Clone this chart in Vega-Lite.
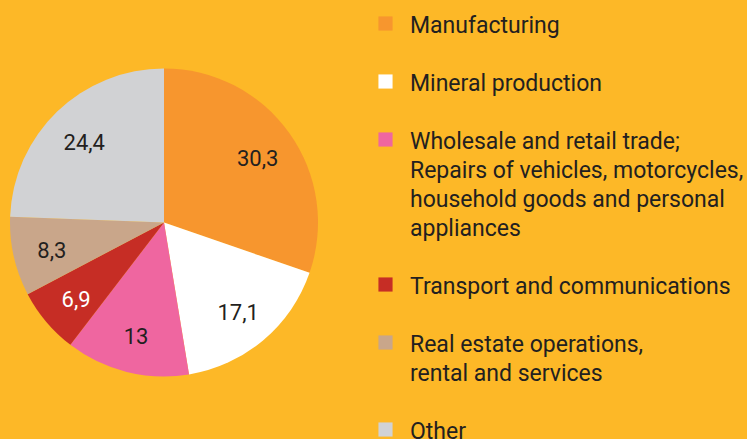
{
  "$schema": "https://vega.github.io/schema/vega-lite/v6.json",
  "width": 328,
  "height": 439,
  "padding": {"left": 0, "top": 0, "right": 419, "bottom": 0},
  "autosize": {"type": "none"},
  "background": "#FDB827",
  "config": {"view": {"stroke": null}},
  "data": {
    "values": [
      {"sector": "Manufacturing", "label": "Manufacturing", "value": 30.3, "text": "30,3", "order": 1},
      {"sector": "Mineral production", "label": "Mineral production", "value": 17.1, "text": "17,1", "order": 2},
      {"sector": "Wholesale", "label": "Wholesale and retail trade;|Repairs of vehicles, motorcycles,|household goods and personal|appliances", "value": 13, "text": "13", "order": 3},
      {"sector": "Transport", "label": "Transport and communications", "value": 6.9, "text": "6,9", "order": 4},
      {"sector": "Real estate", "label": "Real estate operations,|rental and services", "value": 8.3, "text": "8,3", "order": 5},
      {"sector": "Other", "label": "Other", "value": 24.4, "text": "24,4", "order": 6}
    ]
  },
  "encoding": {
    "theta": {"field": "value", "type": "quantitative", "stack": true},
    "order": {"field": "order", "type": "quantitative"}
  },
  "layer": [
    {
      "mark": {"type": "arc", "outerRadius": 154, "yOffset": 3},
      "encoding": {
        "color": {
          "field": "label",
          "type": "nominal",
          "sort": {"field": "order"},
          "scale": {
            "domain": ["Manufacturing", "Mineral production", "Wholesale and retail trade;|Repairs of vehicles, motorcycles,|household goods and personal|appliances", "Transport and communications", "Real estate operations,|rental and services", "Other"],
            "range": ["#F7962E", "#FFFFFF", "#EF66A0", "#C62D25", "#C9A68A", "#D1D2D4"]
          },
          "legend": {
            "orient": "none",
            "legendX": 374,
            "legendY": 12,
            "title": null,
            "symbolType": "square",
            "symbolSize": 200,
            "symbolStrokeWidth": 0,
            "symbolOpacity": 1,
            "labelFont": "Roboto",
            "labelFontSize": 23,
            "labelColor": "#231F20",
            "labelOffset": 13,
            "labelLimit": 400,
            "rowPadding": 32,
            "labelExpr": "split(datum.label, '|')",
            "labelBaseline": "top",
            "encode": {
              "labels": {
                "enter": {"lineHeight": {"value": 29}},
                "update": {"lineHeight": {"value": 29}, "dy": {"value": -9}}
              }
            }
          }
        }
      }
    },
    {
      "mark": {"type": "text", "radius": 115, "yOffset": 6, "font": "Roboto", "fontSize": 22},
      "encoding": {
        "text": {"field": "text"},
        "color": {
          "condition": {"test": "datum.sector === 'Transport'", "value": "#FFFFFF"},
          "value": "#231F20"
        }
      }
    }
  ]
}
